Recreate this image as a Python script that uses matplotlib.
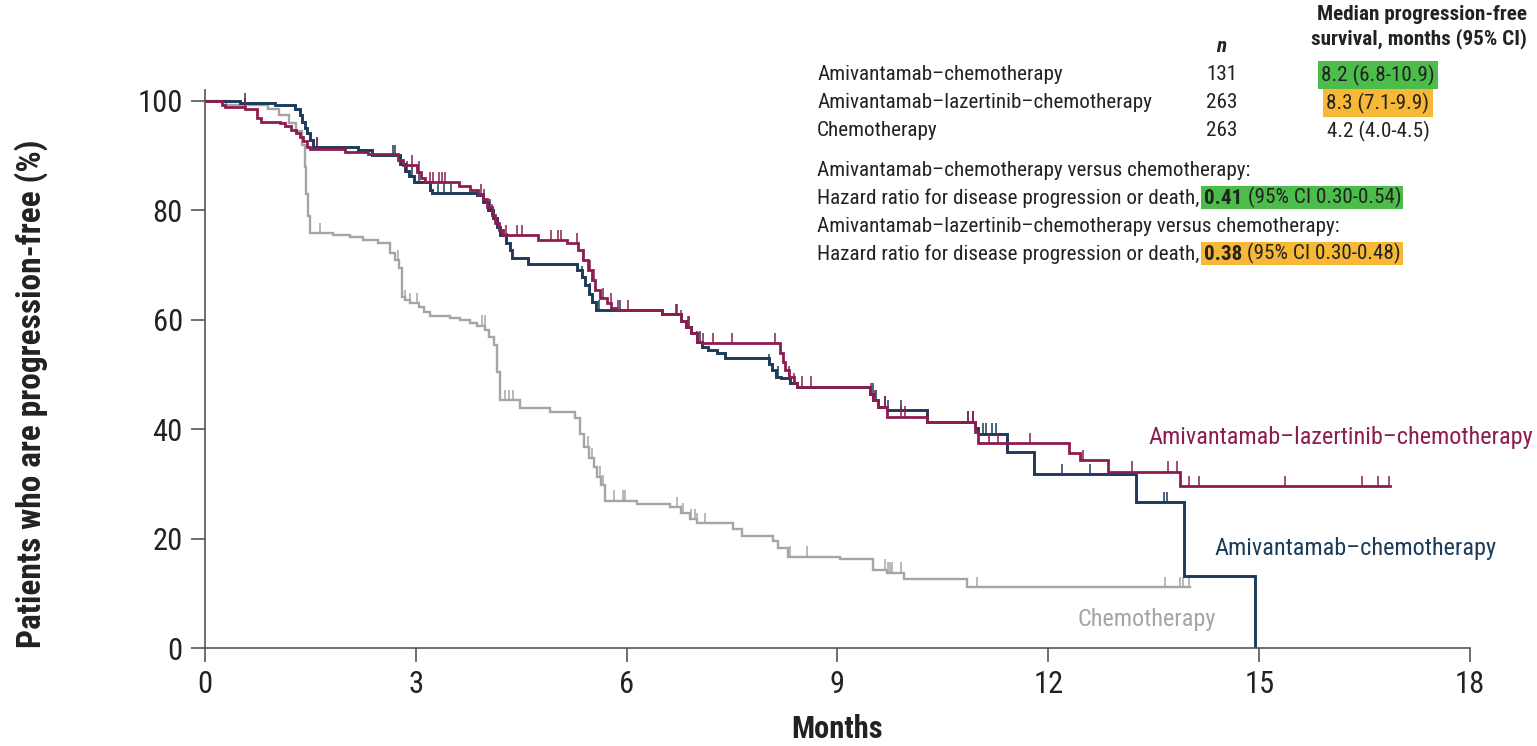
import numpy as np
import matplotlib
matplotlib.use("Agg")
import matplotlib.pyplot as plt
from matplotlib.patches import Rectangle

plt.rcParams['font.family'] = ['Roboto Condensed', 'PT Sans Narrow', 'DejaVu Sans']

W, H = 1537, 746

# ---- data (months, % progression-free) ----
chemo_t = [0, 0.3, 0.9, 1.05, 1.2, 1.3, 1.38, 1.42, 1.44, 1.47, 1.5, 1.82, 2.06, 2.25, 2.46,
           2.63, 2.7, 2.76, 2.8, 2.84, 2.92, 3.04, 3.12, 3.2, 3.48, 3.63, 3.77, 3.87, 3.99,
           4.04, 4.11, 4.15, 4.2, 4.48, 4.91, 5.27, 5.33, 5.40, 5.46, 5.53, 5.58, 5.64, 5.69,
           6.14, 6.62, 6.78, 6.9, 7.0, 7.52, 7.64, 8.08, 8.16, 8.3, 9.04, 9.51, 9.70, 9.94,
           10.84]
chemo_s = [100, 99.3, 98.6, 97.5, 96.0, 94.5, 92.0, 88.0, 83.0, 79.0, 75.8, 75.5, 75.1, 74.5, 74.0,
           72.2, 70.9, 69.4, 64.2, 63.6, 63.0, 62.4, 61.5, 60.6, 60.3, 59.9, 59.4, 58.9, 58.1,
           56.9, 55.4, 50.5, 45.3, 43.8, 43.2, 42.0, 39.2, 36.8, 34.7, 33.1, 31.3, 29.8, 26.9,
           26.4, 25.7, 24.6, 23.5, 22.8, 21.7, 20.4, 19.5, 18.2, 16.7, 16.2, 14.3, 13.8, 12.6,
           11.1]
chemo_end = 14.02
chemo_cens = [1.64, 2.75, 2.85, 2.92, 3.01, 3.94, 3.98, 4.27, 4.32, 4.38, 5.45, 5.5, 5.62, 5.67,
              5.82, 5.95, 5.97, 6.71, 6.8, 6.92, 6.97, 7.0, 7.12, 8.32, 8.57, 9.68, 9.72, 9.75,
              9.78, 9.91, 10.98, 13.66, 13.87, 13.92, 14.0]

ac_t = [0, 0.5, 1.0, 1.28, 1.35, 1.38, 1.42, 1.45, 1.5, 1.53, 2.18, 2.37, 2.78, 2.84, 2.9, 2.98,
        3.2, 3.23, 3.87, 3.96, 4.03, 4.1, 4.15, 4.2, 4.29, 4.34, 4.37, 4.6, 5.29, 5.36, 5.41,
        5.46, 5.51, 5.56, 6.5, 6.78, 6.85, 6.92, 7.0, 7.07, 7.16, 7.28, 7.40, 8.02, 8.07, 8.12,
        8.19, 8.33, 8.43, 9.46, 9.51, 9.58, 9.7, 10.27, 10.96, 11.0, 11.41, 11.79, 13.25, 13.93,
        14.94]
ac_s = [100, 99.6, 99.2, 98.6, 97.5, 96.2, 95.0, 94.1, 92.9, 91.6, 91.0, 90.1, 88.5, 87.2, 86.2, 85.1,
        83.7, 83.2, 82.8, 81.6, 80.1, 78.6, 77.0, 75.5, 74.0, 72.8, 71.2, 70.2, 69.1, 67.9, 66.4,
        64.8, 63.3, 61.8, 61.0, 59.8, 58.7, 57.5, 56.0, 55.1, 54.5, 54.0, 53.0, 51.9, 50.8, 49.6,
        49.3, 48.4, 47.8, 46.5, 45.3, 44.1, 43.5, 41.4, 40.2, 39.2, 35.9, 31.8, 26.6, 13.2,
        0]
ac_end = 14.94
ac_cens = [0.57, 1.59, 2.67, 2.71, 2.88, 2.95, 3.05, 3.32, 3.4, 3.5, 4.05, 4.3, 5.36, 5.48, 5.6,
           5.9, 6.7, 6.88, 7.04, 8.02, 8.16, 9.5, 9.55, 9.68, 9.72, 9.91, 10.86, 10.93, 11.07,
           11.12, 11.2, 11.26, 12.19, 12.6, 13.64, 13.69]

alc_t = [0, 0.24, 0.28, 0.57, 0.74, 0.79, 1.07, 1.14, 1.23, 1.30, 1.35, 1.40, 1.45, 1.5, 1.99,
         2.32, 2.75, 2.82, 3.01, 3.08, 3.13, 3.61, 3.77, 3.89, 3.95, 4.01, 4.08, 4.13, 4.19,
         4.24, 4.74, 5.15, 5.31, 5.38, 5.45, 5.50, 5.55, 5.62, 5.72, 5.78, 5.85, 6.5, 6.78,
         6.85, 6.92, 7.0, 7.07, 8.18, 8.22, 8.26, 8.31, 8.38, 8.43, 9.46, 9.51, 9.58, 9.7,
         10.27, 10.96, 11.0, 12.29, 12.45, 12.85, 13.88]
alc_s = [100, 99.3, 98.9, 98.6, 96.8, 96.2, 96.0, 95.4, 94.7, 94.1, 93.5, 92.6, 91.6, 91.3, 90.7,
         90.3, 89.2, 88.3, 87.1, 85.9, 85.2, 84.5, 83.7, 83.0, 82.0, 80.7, 79.2, 77.6, 76.4,
         75.5, 74.6, 74.0, 72.8, 70.9, 69.1, 67.3, 65.4, 63.9, 63.0, 62.1, 61.8, 61.0, 59.8,
         58.7, 57.5, 56.0, 55.7, 54.0, 52.3, 50.8, 49.6, 48.4, 47.8, 46.5, 45.3, 44.1, 42.3,
         41.4, 39.5, 37.4, 35.6, 34.3, 32.2, 29.6]
alc_end = 16.86
alc_cens = [0.57, 1.59, 2.94, 3.04, 3.2, 3.24, 3.33, 3.37, 3.42, 3.93, 3.97, 4.08, 4.29, 4.44,
            4.51, 4.93, 5.03, 5.07, 5.29, 5.38, 5.48, 5.53, 5.67, 5.77, 5.88, 6.02, 6.71, 6.78,
            6.87, 7.0, 7.08, 7.23, 7.50, 8.11, 8.31, 8.38, 8.5, 8.62, 9.47, 9.54, 9.68, 9.91,
            9.96, 10.86, 10.93, 11.15, 11.28, 11.74, 12.5, 13.19, 13.7, 13.83, 14.0, 14.14,
            15.37, 16.46, 16.69, 16.85]

arm_names = ["Amivantamab\u2013chemotherapy", "Amivantamab\u2013lazertinib\u2013chemotherapy", "Chemotherapy"]
arm_n = ["131", "263", "263"]
arm_median = ["8.2 (6.8-10.9)", "8.3 (7.1-9.9)", "4.2 (4.0-4.5)"]
hr_values = ["0.41", "0.38"]
hr_ci = [" (95% CI 0.30-0.54)", " (95% CI 0.30-0.48)"]

x_ticks = [0, 3, 6, 9, 12, 15, 18]
y_ticks = [0, 20, 40, 60, 80, 100]

c_chemo = "#a5a5a5"
c_ac = "#1c3b5a"
c_alc = "#8c1d4f"
c_green = "#4cbc4a"
c_orange = "#f6b836"
c_text = "#222222"


def surv_at(ts, ss, t):
    i = np.searchsorted(ts, t, side="right") - 1
    return ss[i]


fig = plt.figure(figsize=(W / 100, H / 100), dpi=100)
ax = fig.add_axes([205 / W, 1 - 648 / H, (1470 - 205) / W, (648 - 90) / H])
ax.patch.set_visible(False)

curves = [(chemo_t, chemo_s, chemo_end, chemo_cens, c_chemo, 1.7),
          (ac_t, ac_s, ac_end, ac_cens, c_ac, 2.1),
          (alc_t, alc_s, alc_end, alc_cens, c_alc, 2.0)]
for ts, ss, end, cens, col, lw in curves:
    ts = np.array(ts + [end])
    ss = np.array(ss + [ss[-1]])
    ax.step(ts, ss, where="post", color=col, lw=lw, solid_joinstyle="miter")
    cy = np.array([surv_at(ts, ss, c) for c in cens])
    ax.vlines(cens, cy, cy + 1.9, color=col, lw=1.1)

ax.set_xlim(0, 18)
ax.set_ylim(0, 102)
ax.set_xticks(x_ticks)
ax.set_yticks(y_ticks)
ax.spines["top"].set_visible(False)
ax.spines["right"].set_visible(False)
for sp in ["left", "bottom"]:
    ax.spines[sp].set_color("#555555")
    ax.spines[sp].set_linewidth(1.2)
ax.tick_params(length=10, width=1.2, color="#555555", labelsize=22, pad=6, labelcolor=c_text)
ax.set_xlabel("Months", fontsize=22, fontweight="bold", color=c_text)
ax.xaxis.set_label_coords(0.5, -0.118)
ax.set_ylabel("Patients who are progression-free (%)", fontsize=24, fontweight="bold", color=c_text)
ax.yaxis.set_label_coords(-0.124, 0.455)

# curve labels
ax.text(13.42, 38.4, arm_names[1], color=c_alc, fontsize=17.5, va="center", ha="left")
ax.text(14.37, 18.1, arm_names[0], color=c_ac, fontsize=17.5, va="center", ha="left")
ax.text(12.41, 5.3, arm_names[2], color=c_chemo, fontsize=17.5, va="center", ha="left")


def ftext(x, y, s, **kw):
    kw.setdefault("color", c_text)
    return fig.text(x / W, 1 - y / H, s, **kw)


ts_ = 15.2
ftext(1527, 14, "Median progression-free", fontsize=ts_, fontweight="bold", ha="right", va="center")
ftext(1527, 39, "survival, months (95% CI)", fontsize=ts_, fontweight="bold", ha="right", va="center")
ftext(1221, 46, "n", fontsize=ts_, fontweight="bold", style="italic", ha="center", va="center")
row_y = [75, 103, 131]
boxes = [c_green, c_orange, None]
for name, n, med, yy, bc in zip(arm_names, arm_n, arm_median, row_y, boxes):
    ftext(817, yy, name, fontsize=ts_, va="center")
    ftext(1222, yy, n, fontsize=ts_, va="center", ha="center")
    kw = {}
    if bc:
        kw["bbox"] = dict(boxstyle="square,pad=0.15", fc=bc, ec="none")
    ftext(1378, yy, med, fontsize=ts_, va="center", ha="center", **kw)

ftext(817, 170, arm_names[0] + " versus chemotherapy:", fontsize=ts_, va="center")
ftext(817, 226, arm_names[1] + " versus chemotherapy:", fontsize=ts_, va="center")

hr_parts = []
for yy, v, ci in zip([198, 254], hr_values, hr_ci):
    t0 = ftext(817, yy, "Hazard ratio for disease progression or death, ", fontsize=ts_, va="center")
    t1 = ax.annotate(v, xy=(1, 0), xycoords=t0, va="bottom", ha="left", color=c_text,
                     fontsize=ts_, fontweight="bold", annotation_clip=False)
    t2 = ax.annotate(ci, xy=(1, 0), xycoords=t1, va="bottom", ha="left", color=c_text,
                     fontsize=ts_, annotation_clip=False)
    hr_parts.append((t1, t2))

fig.canvas.draw()
r = fig.canvas.get_renderer()
for (t1, t2), col in zip(hr_parts, [c_green, c_orange]):
    b1 = t1.get_window_extent(r)
    b2 = t2.get_window_extent(r)
    x0, x1 = b1.x0 - 3, b2.x1 + 2
    y0, y1 = min(b1.y0, b2.y0) - 1, max(b1.y1, b2.y1) + 1
    fig.add_artist(Rectangle((x0 / W, y0 / H), (x1 - x0) / W, (y1 - y0) / H,
                             transform=fig.transFigure, fc=col, ec="none", zorder=-1))

fig.savefig("out.png", dpi=100)
